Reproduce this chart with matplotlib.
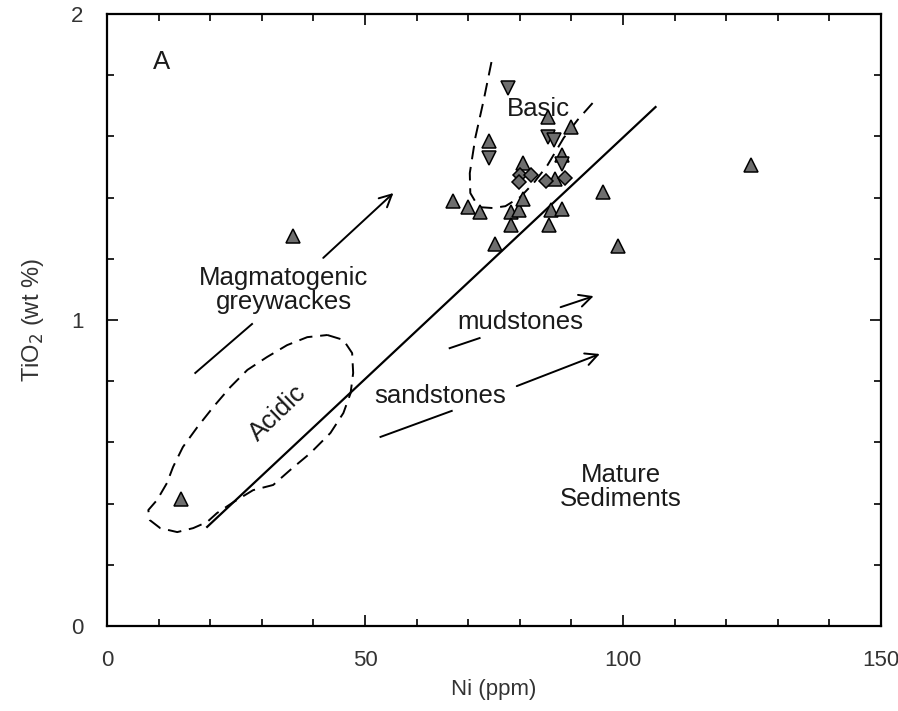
import matplotlib
matplotlib.use("Agg")
import matplotlib.pyplot as plt
from matplotlib.ticker import MultipleLocator

plt.rcParams['font.family'] = ['Liberation Sans', 'DejaVu Sans']

# ---- data ----
up_x = [14.4, 36.1, 124.8, 99.0, 96.1, 74.1, 67.0, 70.0, 72.2, 78.2, 79.8, 78.2,
        75.1, 80.7, 80.7, 85.4, 90.0, 86.9, 86.0, 88.1, 85.6, 88.2]
up_y = [0.415, 1.275, 1.507, 1.242, 1.418, 1.585, 1.389, 1.369, 1.353, 1.353, 1.36, 1.31,
        1.25, 1.513, 1.395, 1.663, 1.631, 1.461, 1.36, 1.363, 1.31, 1.54]
down_x = [77.8, 74.1, 85.4, 86.6, 88.2]
down_y = [1.758, 1.529, 1.598, 1.588, 1.51]
dia_x = [80.1, 82.1, 79.8, 85.0, 88.7]
dia_y = [1.474, 1.474, 1.451, 1.454, 1.464]

# discrimination line
line_x = [19.4, 106.3]
line_y = [0.324, 1.696]

# Basic field (open dashed curve)
basic_x = [74.5, 73.0, 71.4, 70.3, 70.4, 72.0, 74.7, 77.2, 80.1, 82.7, 85.4, 88.5, 91.2, 94.1]
basic_y = [1.843, 1.719, 1.598, 1.48, 1.415, 1.369, 1.366, 1.372, 1.402, 1.448, 1.507, 1.595, 1.654, 1.709]

# Acidic field (closed dashed curve)
acid_x = [42.7, 45.8, 47.5, 47.7, 47.2, 45.8, 43.3, 39.4, 35.5, 32.2, 28.3, 24.5, 21.3, 19.4,
          16.7, 13.6, 10.3, 8.3, 8.0, 9.7, 11.6, 12.8, 14.7, 17.5, 20.6, 23.9, 27.2, 31.0,
          34.9, 38.8, 42.7]
acid_y = [0.951, 0.935, 0.892, 0.827, 0.761, 0.696, 0.631, 0.565, 0.51, 0.461, 0.444, 0.405,
          0.369, 0.34, 0.32, 0.307, 0.32, 0.346, 0.379, 0.412, 0.467, 0.52, 0.585, 0.65,
          0.716, 0.781, 0.837, 0.879, 0.918, 0.944, 0.951]

# trend arrows: tail segment start/end, head segment start/end
arrows = [
    ((17.1, 0.827), (28.1, 0.987), (41.9, 1.203), (55.5, 1.415)),
    ((66.4, 0.908), (72.2, 0.941), (87.9, 1.042), (94.3, 1.078)),
    ((53.0, 0.618), (66.8, 0.703), (79.4, 0.784), (95.5, 0.889)),
]

# ---- figure ----
fig = plt.figure(figsize=(8.98, 7.11), dpi=100)
ax = fig.add_axes([0.1192, 0.1195, 0.9811 - 0.1192, 0.9803 - 0.1195])
ax.set_xlim(0, 150)
ax.set_ylim(0, 2)

ax.plot(line_x, line_y, color='black', lw=1.6, zorder=2)
ax.plot(basic_x, basic_y, color='black', lw=1.4, dashes=(7, 4), zorder=2)
ax.plot(acid_x, acid_y, color='black', lw=1.4, dashes=(7, 4), zorder=2)

for (t0, t1, h0, h1) in arrows:
    ax.plot([t0[0], t1[0]], [t0[1], t1[1]], color='black', lw=1.4, zorder=2)
    ax.annotate('', xy=h1, xytext=h0,
                arrowprops=dict(arrowstyle='->', color='black', lw=1.4,
                                mutation_scale=22, shrinkA=0, shrinkB=0))

mk = dict(color='#6e6e6e', markeredgecolor='black', markeredgewidth=1.1,
          linestyle='none', zorder=4)
ax.plot(up_x, up_y, marker='^', markersize=10, **mk)
ax.plot(down_x, down_y, marker='v', markersize=10, **mk)
ax.plot(dia_x, dia_y, marker='D', markersize=7, **mk)

tc = '#1a1a1a'
fs = 18.5
ax.text(10.5, 1.843, 'A', fontsize=fs, color=tc, ha='center', va='center')
ax.text(83.6, 1.69, 'Basic', fontsize=fs, color=tc, ha='center', va='center')
ax.text(34.2, 1.098, 'Magmatogenic\ngreywackes', fontsize=fs, color=tc,
        ha='center', va='center', linespacing=1.0)
ax.text(80.1, 0.993, 'mudstones', fontsize=fs, color=tc, ha='center', va='center')
ax.text(64.6, 0.752, 'sandstones', fontsize=fs, color=tc, ha='center', va='center')
ax.text(33.0, 0.696, 'Acidic', fontsize=fs, color=tc, ha='center', va='center', rotation=44)
ax.text(99.6, 0.454, 'Mature\nSediments', fontsize=fs, color=tc, ha='center', va='center',
        linespacing=1.0)

# ---- axes styling ----
ax.xaxis.set_major_locator(MultipleLocator(50))
ax.xaxis.set_minor_locator(MultipleLocator(10))
ax.yaxis.set_major_locator(MultipleLocator(1))
ax.yaxis.set_minor_locator(MultipleLocator(0.2))
ax.tick_params(which='both', direction='in', top=True, right=True, width=1.2,
               colors='black', labelcolor='#333333', labelsize=16)
ax.tick_params(which='major', length=8, pad=17)
ax.tick_params(which='minor', length=5)
for s in ax.spines.values():
    s.set_linewidth(1.6)

ax.set_xlabel('Ni (ppm)', fontsize=16, color='#333333', labelpad=6)
ax.set_ylabel('TiO$_2$ (wt %)', fontsize=17, color='#333333', labelpad=18)

fig.savefig('out.png', dpi=100)
